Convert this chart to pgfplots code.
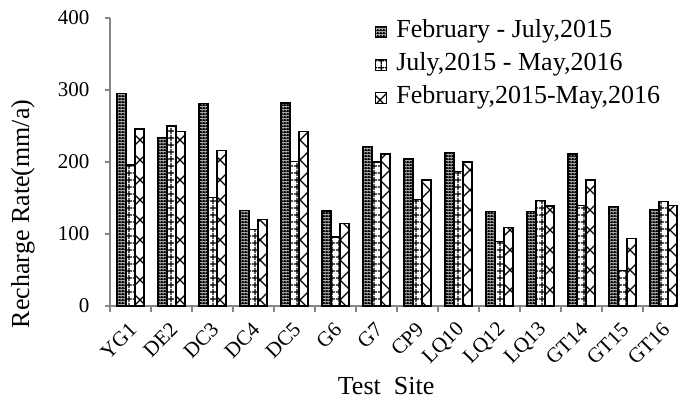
\documentclass[border=0pt]{standalone}
\usepackage{fontspec}
\setmainfont{Liberation Serif}
\usepackage{pgfplots}
\pgfplotsset{compat=1.18}
\usetikzlibrary{patterns.meta}
\definecolor{axgray}{RGB}{134,134,134}

\pgfdeclarepattern{
  name=denseDots, type=colored,
  bottom left={\pgfpointorigin}, top right={\pgfpoint{3bp}{3bp}},
  tile size={\pgfpoint{3bp}{3bp}},
  code={
    \pgfsetfillcolor{black}
    \pgfpathrectangle{\pgfpointorigin}{\pgfpoint{3bp}{3bp}}\pgfusepath{fill}
    \pgfsetfillcolor{white}
    \pgfpathcircle{\pgfpoint{1.5bp}{1.5bp}}{0.85bp}\pgfusepath{fill}
  }}
\pgfdeclarepattern{
  name=bigGrid, type=uncolored,
  bottom left={\pgfpointorigin}, top right={\pgfpoint{7bp}{7bp}},
  tile size={\pgfpoint{7bp}{7bp}},
  code={
    \pgfsetlinewidth{1.4bp}
    \pgfpathmoveto{\pgfpoint{3.5bp}{0bp}}\pgfpathlineto{\pgfpoint{3.5bp}{7bp}}
    \pgfpathmoveto{\pgfpoint{0bp}{3.5bp}}\pgfpathlineto{\pgfpoint{7bp}{3.5bp}}
    \pgfusepath{stroke}
  }}
\pgfdeclarepattern{
  name=wideCross, type=uncolored,
  bottom left={\pgfpoint{-1bp}{-1bp}}, top right={\pgfpoint{21bp}{21bp}},
  tile size={\pgfpoint{20bp}{20bp}},
  code={
    \pgfsetlinewidth{1.1bp}
    \pgfpathmoveto{\pgfpoint{-1bp}{-1bp}}\pgfpathlineto{\pgfpoint{21bp}{21bp}}
    \pgfpathmoveto{\pgfpoint{-1bp}{21bp}}\pgfpathlineto{\pgfpoint{21bp}{-1bp}}
    \pgfusepath{stroke}
  }}

\pgfplotsset{
  sqlegend/.style={legend image code/.code={%
    \draw[##1, line width=1.1bp] (0bp,-6bp) rectangle (11bp,5bp);}}}

\pgfplotstableread{
x  site  a    b    c
0  YG1   295  196  246
1  DE2   234  250  242
2  DC3   281  151  216
3  DC4   133  106  120
4  DC5   282  201  242
5  G6    132  96   115
6  G7    222  200  211
7  CP9   204  148  175
8  LQ10  213  187  200
9  LQ12  131  90   109
10 LQ13  131  147  139
11 GT14  211  140  175
12 GT15  138  49   94
13 GT16  134  145  140
}\datatable

\begin{document}
\begin{tikzpicture}
\useasboundingbox (-110bp,-94bp) rectangle (568bp,306bp);
\clip (-110bp,-94bp) rectangle (568bp,306bp);
\begin{axis}[
  at={(0,0)}, anchor=south west,
  scale only axis, width=574bp, height=288bp,
  ybar=0pt, bar width=9bp,
  xmin=-0.5, xmax=13.5, ymin=0, ymax=400,
  axis lines*=left,
  axis line style={axgray, line width=1.2bp},
  every tick/.style={axgray, line width=1.2bp},
  tick align=outside,
  xtick={0,...,13},
  xticklabels={YG1,DE2,DC3,DC4,DC5,G6,G7,CP9,LQ10,LQ12,LQ13,GT14,GT15,GT16},
  major x tick style={draw=none},
  minor xtick={-0.5,0.5,...,13.5},
  minor tick length=6bp,
  major tick length=5bp,
  ytick={0,100,...,400},
  /pgf/number format/assume math mode=true,
  ticklabel style={font=\fontsize{21bp}{24bp}\selectfont},
  xticklabel style={xshift=5bp, yshift=-13bp, rotate=45, anchor=east},
  yticklabel shift=12bp,
  ylabel={Recharge Rate(mm/a)},
  xlabel={Test\ \ Site},
  label style={font=\fontsize{26bp}{30bp}\selectfont},
  ylabel style={at={(axis description cs:-0.1516,0.32)}, anchor=center},
  xlabel style={at={(axis description cs:0.481,-0.309)}, anchor=base},
  legend style={at={(axis description cs:0.4617,0.998)}, anchor=north west,
    draw=none, fill=none, inner sep=0pt,
    font=\fontsize{26bp}{30bp}\selectfont,
    nodes={inner sep=0pt, text height=19bp, text depth=6bp},
    row sep=8bp,
    /tikz/every odd column/.append style={column sep=9bp}},
  legend cell align=left,
  every axis plot/.append style={draw=black, line width=1.3bp},
]
\addplot[pattern=denseDots, draw=black, sqlegend] table[x=x, y=a] {\datatable};
\addplot[pattern=bigGrid, draw=black, sqlegend] table[x=x, y=b] {\datatable};
\addplot[pattern=wideCross, draw=black, sqlegend] table[x=x, y=c] {\datatable};
\legend{{February - July,2015}, {July,2015 - May,2016}, {February,2015-May,2016}}
\end{axis}
\end{tikzpicture}
\end{document}
